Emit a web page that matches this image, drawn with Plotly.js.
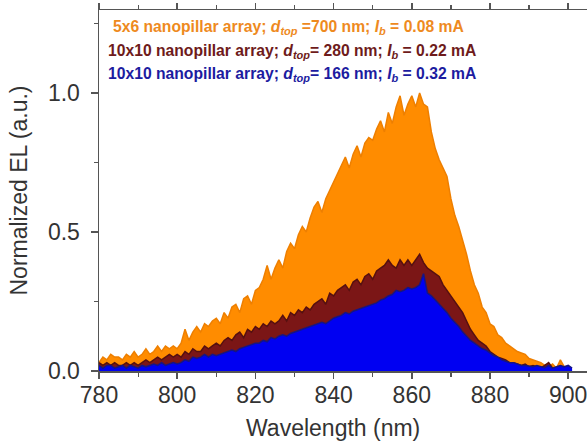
<!DOCTYPE html>
<html>
<head>
<meta charset="utf-8">
<script src="https://cdn.plot.ly/plotly-3.0.1.min.js"></script>
<style>html,body{margin:0;padding:0;background:#fff;overflow:hidden;width:587px;height:442px;}#chart{width:620px;height:442px;}</style>
</head>
<body>
<div id="chart"></div>
<script>
// Wavelength grids (nm): start value and 1 nm step
const orangeStart = 780;
const redStart = 780;
const blueStart = 780;

// 5x6 nanopillar array, d_top = 700 nm, I_b = 0.08 mA
const orangeEL = [
0.03,0.05,0.04,0.06,0.05,0.05,0.04,0.06,0.05,0.07,
0.05,0.06,0.08,0.06,0.07,0.09,0.07,0.09,0.08,0.09,
0.08,0.10,0.15,0.11,0.14,0.16,0.14,0.17,0.16,0.18,
0.19,0.17,0.21,0.19,0.23,0.24,0.21,0.26,0.27,0.24,
0.29,0.30,0.33,0.38,0.33,0.37,0.40,0.37,0.43,0.46,
0.44,0.49,0.52,0.50,0.55,0.59,0.61,0.57,0.62,0.65,
0.68,0.71,0.74,0.77,0.73,0.78,0.81,0.77,0.82,0.84,
0.83,0.87,0.90,0.86,0.93,0.89,0.95,0.99,0.92,0.96,
0.99,0.95,1.00,0.96,0.95,0.86,0.80,0.76,0.73,0.70,
0.62,0.56,0.52,0.47,0.42,0.36,0.31,0.28,0.23,0.21,
0.17,0.16,0.13,0.12,0.10,0.09,0.08,0.07,0.065,0.06,
0.045,0.04,0.035,0.03,0.02,0.015,0.025,0.01,0.04,0.015,
0.01];

// 10x10 nanopillar array, d_top = 280 nm, I_b = 0.22 mA
const redEL = [
0.03,0.02,0.03,0.02,0.03,0.02,0.02,0.03,0.02,0.03,
0.02,0.03,0.04,0.03,0.04,0.05,0.04,0.05,0.06,0.05,
0.06,0.05,0.07,0.06,0.08,0.07,0.07,0.09,0.08,0.09,
0.10,0.09,0.11,0.12,0.11,0.13,0.14,0.12,0.15,0.14,
0.16,0.15,0.17,0.16,0.18,0.17,0.18,0.20,0.18,0.21,
0.20,0.22,0.21,0.23,0.22,0.24,0.25,0.26,0.24,0.28,
0.27,0.29,0.30,0.31,0.29,0.32,0.33,0.31,0.34,0.35,
0.33,0.36,0.37,0.38,0.40,0.38,0.37,0.40,0.38,0.40,
0.38,0.40,0.42,0.39,0.37,0.36,0.35,0.34,0.31,0.29,
0.27,0.25,0.23,0.21,0.18,0.15,0.13,0.11,0.10,0.09,
0.07,0.06,0.05,0.045,0.04,0.03,0.03,0.025,0.02,0.025,
0.015,0.02,0.015,0.01,0.02,0.03,0.01,0.005];

// 10x10 nanopillar array, d_top = 166 nm, I_b = 0.32 mA
const blueEL = [
0.02,0.01,0.02,0.02,0.01,0.015,0.02,0.01,0.02,0.015,
0.01,0.02,0.015,0.02,0.025,0.02,0.03,0.02,0.025,0.03,
0.025,0.03,0.04,0.035,0.05,0.045,0.05,0.06,0.05,0.06,
0.055,0.06,0.065,0.07,0.075,0.07,0.08,0.085,0.09,0.095,
0.10,0.10,0.11,0.105,0.12,0.115,0.125,0.13,0.125,0.135,
0.14,0.145,0.15,0.155,0.16,0.165,0.17,0.175,0.17,0.18,
0.19,0.195,0.20,0.21,0.205,0.215,0.22,0.225,0.23,0.235,
0.24,0.245,0.255,0.26,0.27,0.275,0.29,0.285,0.29,0.30,
0.295,0.30,0.31,0.35,0.28,0.27,0.255,0.24,0.225,0.21,
0.19,0.175,0.16,0.14,0.125,0.11,0.10,0.09,0.08,0.075,
0.065,0.055,0.05,0.04,0.035,0.03,0.03,0.025,0.02,0.02,
0.018,0.015,0.02,0.015,0.012,0.02,0.01,0.015,0.02,0.015,
0.02,0.01];

const legendLines = [
  '<b>5x6 nanopillar array; <i>d</i><sub><i>top</i></sub> =700 nm; <i>I</i><sub><i>b</i></sub> = 0.08 mA</b>',
  '<b>10x10 nanopillar array; <i>d</i><sub><i>top</i></sub>= 280 nm; <i>I</i><sub><i>b</i></sub> = 0.22 mA</b>',
  '<b>10x10 nanopillar array; <i>d</i><sub><i>top</i></sub>= 166 nm; <i>I</i><sub><i>b</i></sub> = 0.32 mA</b>'
];
const xTitle = 'Wavelength (nm)';
const yTitle = 'Normalized EL (a.u.)';
const xTickVals = [780, 800, 820, 840, 860, 880, 900];
const yTickVals = [0.0, 0.5, 1.0];

function grid(start, n) { const a = []; for (let i = 0; i < n; i++) a.push(start + i); return a; }

const traces = [
  {x: grid(orangeStart, orangeEL.length), y: orangeEL, type: 'scatter', mode: 'lines', fill: 'tozeroy',
   fillcolor: '#FF8C00', line: {color: '#EE7F00', width: 1.5}, hoverinfo: 'skip'},
  {x: grid(redStart, redEL.length), y: redEL, type: 'scatter', mode: 'lines', fill: 'tozeroy',
   fillcolor: '#7B1616', line: {color: '#561010', width: 1.5}, hoverinfo: 'skip'},
  {x: grid(blueStart, blueEL.length), y: blueEL, type: 'scatter', mode: 'lines', fill: 'tozeroy',
   fillcolor: '#0000F2', line: {color: '#151585', width: 1.5}, hoverinfo: 'skip'}
];

// plot area spans pixels 99..600 (window shows up to 587)
const PW = 501;
const colors = ['#EE8A1E', '#6E1B1B', '#1C1CA0'];
const ys = [1.234, 1.151, 1.066];
const xs = [11.6 / PW, 6.6 / PW, 6.6 / PW];
const annotations = legendLines.map((t, i) => ({
  text: t, xref: 'paper', yref: 'y', x: xs[i], y: ys[i], xanchor: 'left', yanchor: 'middle',
  showarrow: false, font: {family: 'Arial, Liberation Sans, sans-serif', size: 15.7, color: colors[i]}
}));
annotations.push({
  text: xTitle, xref: 'paper', yref: 'paper', x: (333 - 99) / PW, y: -57 / 361,
  xanchor: 'center', yanchor: 'middle', showarrow: false,
  font: {family: 'Arial, Liberation Sans, sans-serif', size: 23, color: '#333'}
});

const layout = {
  width: 620, height: 442,
  margin: {l: 99, r: 20, t: 10, b: 71, pad: 0},
  paper_bgcolor: '#fff', plot_bgcolor: '#fff',
  showlegend: false,
  font: {family: 'Arial, Liberation Sans, sans-serif', color: '#333'},
  xaxis: {
    range: [780, 780 + PW / 3.91], tickvals: xTickVals, ticks: 'outside', ticklen: 6, tickwidth: 1.5, tickcolor: '#555',
    minor: {dtick: 10, ticks: 'outside', ticklen: 4, tickwidth: 1.2, tickcolor: '#555'},
    showline: true, linecolor: '#555', linewidth: 1.5, mirror: 'ticks', showgrid: false, zeroline: false,
    ticklabelstandoff: -3,
    tickfont: {size: 23, color: '#333'}
  },
  yaxis: {
    range: [0, 1.2986], tickvals: yTickVals, tickformat: '.1f', ticks: 'outside', ticklen: 7, tickwidth: 1.5, tickcolor: '#555',
    minor: {dtick: 0.25, ticks: 'outside', ticklen: 4, tickwidth: 1.2, tickcolor: '#555'},
    showline: true, linecolor: '#555', linewidth: 1.5, showgrid: false, zeroline: false,
    ticklabelstandoff: 6,
    tickfont: {size: 23, color: '#333'},
    title: {text: yTitle, font: {size: 23, color: '#333'}, standoff: 14}
  },
  annotations: annotations
};

Plotly.newPlot('chart', traces, layout, {staticPlot: true, displayModeBar: false});
</script>
</body>
</html>
